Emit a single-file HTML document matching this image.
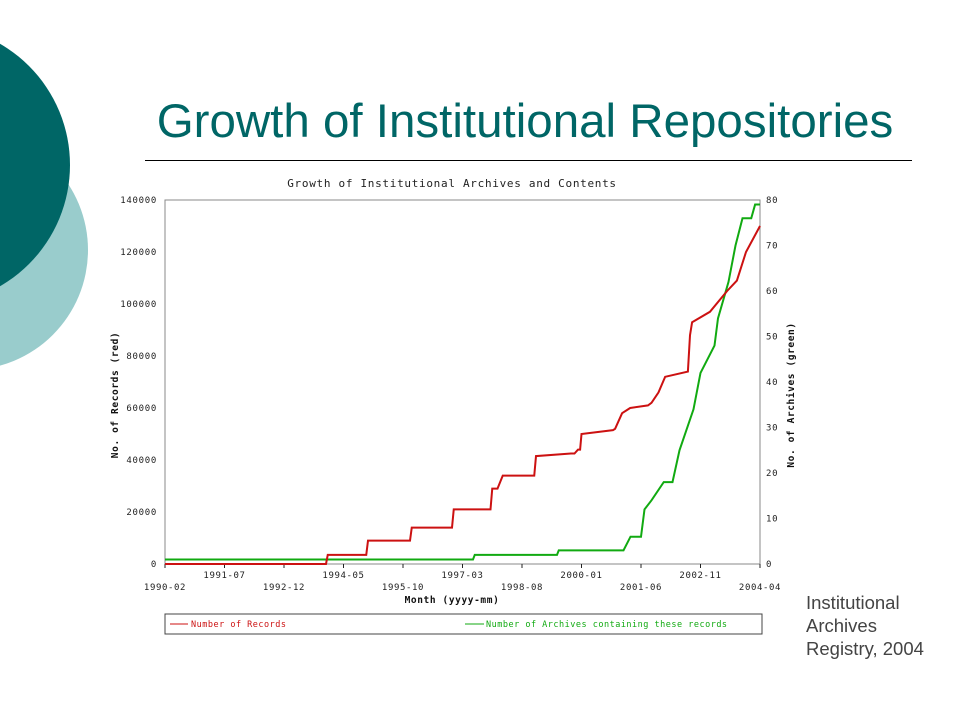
<!DOCTYPE html>
<html><head><meta charset="utf-8"><style>
body{margin:0;width:960px;height:720px;overflow:hidden;background:#fff;font-family:"Liberation Sans",sans-serif;position:relative}
.t{font-family:"DejaVu Sans Mono","Liberation Mono",monospace}
</style></head><body>
<svg width="960" height="720" style="position:absolute;left:0;top:0">
<circle cx="-32" cy="250" r="120" fill="#99cccc"/>
<circle cx="-70" cy="165" r="140" fill="#006666"/>
<text x="525" y="137" text-anchor="middle" font-size="47.5" fill="#006666" font-family="Liberation Sans">Growth of Institutional Repositories</text>
<line x1="145" y1="160.5" x2="912" y2="160.5" stroke="#000" stroke-width="1"/>
<g font-family="Liberation Sans" font-size="18.5" fill="#444">
<text x="806" y="609">Institutional</text><text x="806" y="632">Archives</text><text x="806" y="655">Registry, 2004</text></g>
<g id="chart" class="t"></g>
</svg>
<script>
const xTickLabels=["1990-02","1991-07","1992-12","1994-05","1995-10","1997-03","1998-08","2000-01","2001-06","2002-11","2004-04"];
const yLeftTicks=[0,20000,40000,60000,80000,100000,120000,140000];
const yRightTicks=[0,10,20,30,40,50,60,70,80];
const recMonths=[0,46,46.5,57.5,58,70,70.5,82,82.5,93,93.5,95,96.5,97,105.5,106,116,117,118,118.6,119,128,128.6,130.6,132.9,138,139,141,142.9,149.4,150,150.6,155.7,160.6,163.4,166,170];
const recValues=[0,0,3500,3500,9000,9000,14000,14000,21000,21000,29000,29000,34000,34000,34000,41500,42500,42500,44000,44000,50000,51500,52000,58000,60000,61000,62000,66000,72000,74000,88000,93000,97000,105000,109000,120000,130000];
const arcMonths=[0,88,88.5,112,112.5,131,133,136,137,139,142.5,145,147,151,153,157,158,161,163,165,167.5,168.6,170];
const arcValues=[1,1,2,2,3,3,6,6,12,14,18,18,25,34,42,48,54,62,70,76,76,79,79];
const L=165,R=760,T=200,B=564,MAXM=170;
const xs=m=>L+(R-L)*m/MAXM, yl=v=>B-(B-T)*v/140000, yr=v=>B-(B-T)*v/80;
const g=document.getElementById('chart');const NS='http://www.w3.org/2000/svg';
function mk(tag,a,txt){const e=document.createElementNS(NS,tag);for(const k in a)e.setAttribute(k,a[k]);if(txt!=null)e.textContent=txt;g.appendChild(e);return e;}
let e;
e=mk('text',{x:452,y:187,'text-anchor':'middle','font-size':11,'letter-spacing':0.7,fill:'#222'},'Growth of Institutional Archives and Contents');


e=mk('rect',{x:L,y:T,width:R-L,height:B-T,fill:'none',stroke:'#888'});


yLeftTicks.forEach(v=>{e=mk('text',{x:L-8,y:yl(v)+3,'text-anchor':'end','font-size':9,'letter-spacing':0.7,fill:'#222'},String(v));

});
yRightTicks.forEach(v=>{e=mk('text',{x:R+6,y:yr(v)+3,'font-size':9,'letter-spacing':0.7,fill:'#222'},String(v));

});
xTickLabels.forEach((s,i)=>{const x=xs(i*17);mk('line',{x1:x,y1:B,x2:x,y2:B+4,stroke:'#222'});
e=mk('text',{x:x,y:i%2?578:590,'text-anchor':'middle','font-size':9,'letter-spacing':0.6,fill:'#222'},s);

});
e=mk('text',{x:452,y:603,'text-anchor':'middle','font-size':9.5,'letter-spacing':0.6,'font-weight':'bold',fill:'#111'},'Month (yyyy-mm)');


e=mk('text',{x:0,y:0,'text-anchor':'middle','font-size':9.5,'letter-spacing':0.6,'font-weight':'bold',fill:'#111',transform:'translate(118,395) rotate(-90)'},'No. of Records (red)');


e=mk('text',{x:0,y:0,'text-anchor':'middle','font-size':9.5,'letter-spacing':0.6,'font-weight':'bold',fill:'#111',transform:'translate(794,395) rotate(-90)'},'No. of Archives (green)');


e=mk('polyline',{points:arcMonths.map((m,i)=>xs(m)+','+yr(arcValues[i])).join(' '),fill:'none',stroke:'#11aa11','stroke-width':2});


e=mk('polyline',{points:recMonths.map((m,i)=>xs(m)+','+yl(recValues[i])).join(' '),fill:'none',stroke:'#cc1111','stroke-width':2});


e=mk('rect',{x:165,y:614,width:597,height:20,fill:'none',stroke:'#444'});


mk('line',{x1:170,y1:624,x2:188,y2:624,stroke:'#cc1111'});
e=mk('text',{x:191,y:627,'font-size':8.5,'letter-spacing':0.5,fill:'#cc1111'},'Number of Records');


mk('line',{x1:465,y1:624,x2:484,y2:624,stroke:'#11aa11'});
e=mk('text',{x:486,y:627,'font-size':8.5,'letter-spacing':0.5,fill:'#11aa11'},'Number of Archives containing these records');


</script>
</body></html>
